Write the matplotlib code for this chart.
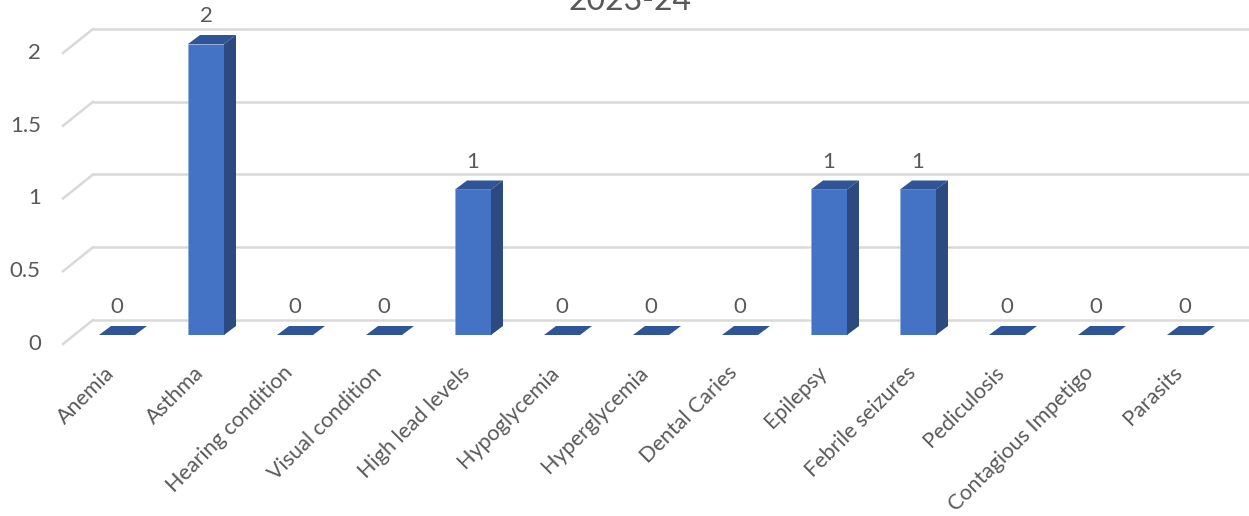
import matplotlib.pyplot as plt
from matplotlib.patches import Polygon

# Data
categories = ['Anemia', 'Asthma', 'Hearing condition', 'Visual condition', 'High lead levels',
              'Hypoglycemia', 'Hyperglycemia', 'Dental Caries', 'Epilepsy', 'Febrile seizures',
              'Pediculosis', 'Contagious Impetigo', 'Parasits']
values = [0, 2, 0, 0, 1, 0, 0, 0, 1, 1, 0, 0, 0]
yticks = [0, 0.5, 1, 1.5, 2]
title = '2023-24'

plt.rcParams['font.family'] = ['Lato', 'DejaVu Sans']
text_color = '#595959'
front_color = '#4472C4'
side_color = '#2C4A80'
top_color = '#2F5597'
grid_color = '#D9D9D9'

W, H = 1249, 516
fig = plt.figure(figsize=(W / 100, H / 100), dpi=100)
ax = fig.add_axes([63 / W, 181 / H, (W - 63) / W, 291 / H])

px_x = 89.0      # pixels per category
px_y = 145.5     # pixels per unit
x0_px = 117      # pixel position of first category
ax.set_xlim(-(x0_px - 63) / px_x, (W - x0_px) / px_x)
ax.set_ylim(0, 2)
ax.axis('off')

# perspective offsets (in data units)
dx = 12 / px_x
dy = 9 / px_y
back_up = 15 / px_y
diag_down = 9 / px_y
back_x = (93 - x0_px) / px_x
xmin, xmax = ax.get_xlim()

# back gridlines and left wall diagonals
for v in yticks:
    ax.plot([back_x, xmax], [v + back_up, v + back_up], color=grid_color, lw=1.8, zorder=1,
            solid_capstyle='butt', clip_on=False)
    ax.plot([xmin, back_x], [v - diag_down, v + back_up], color=grid_color, lw=1.8, zorder=1,
            clip_on=False)
    ax.annotate(f'{v:g}', xy=(xmin, v - diag_down), xytext=(-16, 0), textcoords='offset points',
                ha='right', va='center', fontsize=16, color=text_color, annotation_clip=False)

w = 36 / px_x
x = list(range(len(categories)))
ax.bar(x, values, width=w, color=front_color, edgecolor='#8FAADC', linewidth=0.4, zorder=3)

for xi, v in zip(x, values):
    l, r = xi - w / 2, xi + w / 2
    top = Polygon([(l, v), (r, v), (r + dx, v + dy), (l + dx, v + dy)],
                  closed=True, facecolor=top_color, edgecolor='none', zorder=3, clip_on=False)
    ax.add_patch(top)
    if v > 0:
        side = Polygon([(r, 0), (r + dx, dy), (r + dx, v + dy), (r, v)],
                       closed=True, facecolor=side_color, edgecolor='none', zorder=3, clip_on=False)
        ax.add_patch(side)
    ax.annotate(f'{v}', xy=(xi, v), xytext=(0, 20), textcoords='offset points',
                ha='center', va='center', fontsize=16, color=text_color, annotation_clip=False)
    ax.annotate(categories[xi], xy=(xi, 0), xytext=(-4, -25), textcoords='offset points',
                ha='right', va='center', rotation=45, rotation_mode='anchor',
                fontsize=15.5, color=text_color, annotation_clip=False)

fig.text(630 / W, (H - 10) / H, title, ha='center', va='baseline', fontsize=23, color=text_color)

fig.savefig('out.png', dpi=100)
